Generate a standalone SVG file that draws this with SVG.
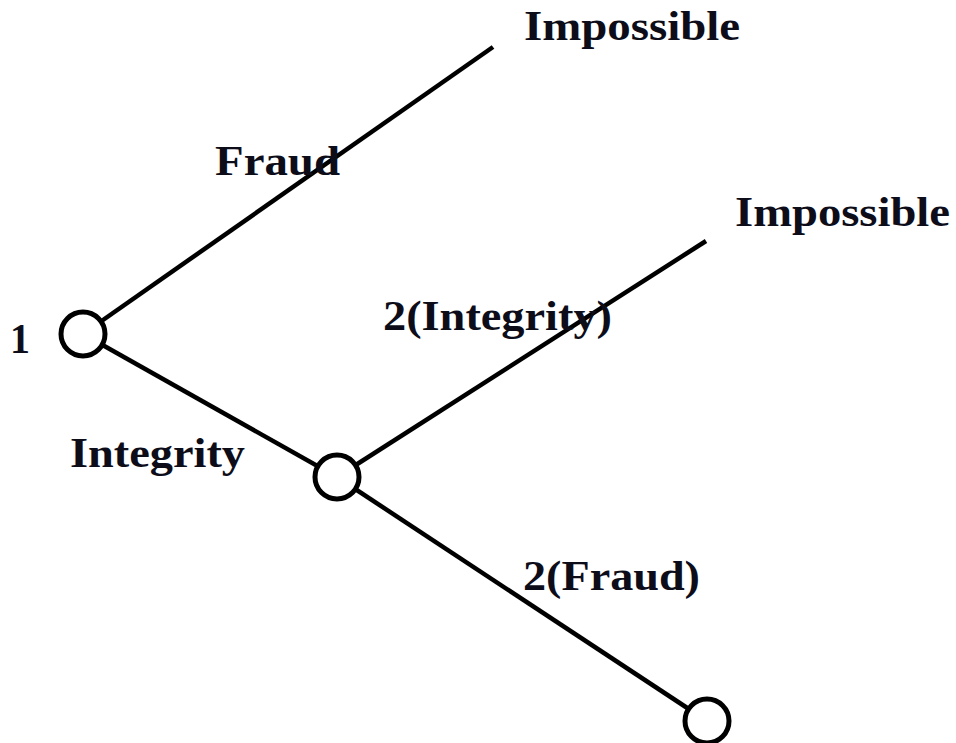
<svg xmlns="http://www.w3.org/2000/svg" width="956" height="743" viewBox="0 0 956 743">
  <style>
    .edge { stroke: #000; stroke-width: 4.5; stroke-linecap: butt; fill: none; }
    .node { fill: #fff; stroke: #000; stroke-width: 5; }
    .lbl { font-family: "Liberation Serif", "Times New Roman", serif; font-weight: bold; font-size: 42px; fill: #0d0d1a; }
  </style>
  <rect width="956" height="743" fill="#fff"/>
  <g id="connectors">
    <line class="edge" x1="83" y1="334" x2="493" y2="47"/>
    <line class="edge" x1="83" y1="334" x2="337" y2="477"/>
    <line class="edge" x1="337" y1="477" x2="706" y2="241"/>
    <line class="edge" x1="337" y1="477" x2="707" y2="721"/>
  </g>
  <g id="node1">
    <circle class="node" cx="83" cy="334" r="22"/>
    <text class="lbl" x="10" y="353" textLength="20" lengthAdjust="spacingAndGlyphs">1</text>
  </g>
  <g id="node2">
    <circle class="node" cx="337" cy="477" r="22"/>
  </g>
  <g id="node3">
    <circle class="node" cx="707" cy="721" r="22"/>
  </g>
  <g id="labels">
    <text class="lbl" x="524" y="40" textLength="216" lengthAdjust="spacingAndGlyphs">Impossible</text>
    <text class="lbl" x="735" y="226" textLength="215" lengthAdjust="spacingAndGlyphs">Impossible</text>
    <text class="lbl" x="215" y="175" textLength="125" lengthAdjust="spacingAndGlyphs">Fraud</text>
    <text class="lbl" x="383" y="330" textLength="229" lengthAdjust="spacingAndGlyphs">2(Integrity)</text>
    <text class="lbl" x="70" y="467" textLength="175" lengthAdjust="spacingAndGlyphs">Integrity</text>
    <text class="lbl" x="523" y="590" textLength="177" lengthAdjust="spacingAndGlyphs">2(Fraud)</text>
  </g>
</svg>
